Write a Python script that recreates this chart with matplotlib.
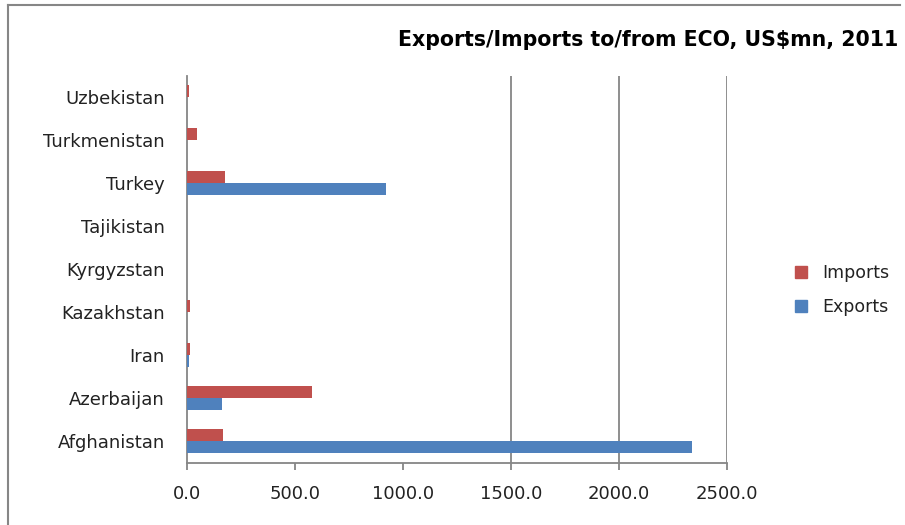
import matplotlib.pyplot as plt
from matplotlib.lines import Line2D

countries = ["Afghanistan", "Azerbaijan", "Iran", "Kazakhstan", "Kyrgyzstan",
             "Tajikistan", "Turkey", "Turkmenistan", "Uzbekistan"]
exports = [2340.0, 162.0, 8.0, 0.0, 0.0, 0.0, 921.0, 0.0, 0.0]
imports = [167.0, 578.0, 14.0, 12.0, 0.0, 0.0, 176.0, 44.0, 8.0]
xticks = [0, 500, 1000, 1500, 2000, 2500]

red = "#C0504D"
blue = "#4F81BD"
grey = "#868686"

fig = plt.figure(figsize=(9.05, 5.25), dpi=100)
ax = fig.add_axes([187 / 905, 1 - 462.5 / 525, 540 / 905, 387 / 525])

ypos = list(range(len(countries)))
h = 0.29
ax.barh([y - h / 2 for y in ypos], exports, height=h, color=blue, label="Exports", zorder=3)
ax.barh([y + h / 2 for y in ypos], imports, height=h, color=red, label="Imports", zorder=3)

ax.set_xlim(0, 2500)
ax.set_ylim(-0.5, len(countries) - 0.5)
ax.set_yticks(ypos)
ax.set_yticklabels(countries, fontsize=13, color="#222222")
ax.set_xticks(xticks)
ax.set_xticklabels(["%.1f" % v for v in xticks], fontsize=13, color="#222222")
ax.tick_params(axis="y", length=0, pad=16)
ax.tick_params(axis="x", length=5, color=grey, width=1.3, pad=11)

# only the upper grid lines show in the reference
for v in xticks[3:]:
    ax.axvline(v, color=grey, lw=1.3, zorder=1)

for s in ["top", "right"]:
    ax.spines[s].set_visible(False)
for s in ["left", "bottom"]:
    ax.spines[s].set_color(grey)
    ax.spines[s].set_linewidth(1.3)

handles = [Line2D([], [], marker="s", ls="", color=red, markersize=9),
           Line2D([], [], marker="s", ls="", color=blue, markersize=9)]
fig.legend(handles, ["Imports", "Exports"], loc="center left",
           bbox_to_anchor=(768 / 905, 1 - 290 / 525), frameon=False,
           fontsize=12.5, handletextpad=0.2, labelspacing=0.95,
           labelcolor="#222222")

fig.text(398 / 905, 1 - 40 / 525, "Exports/Imports to/from ECO, US$mn, 2011",
         fontsize=14.8, fontweight="bold", family="DejaVu Sans",
         ha="left", va="center")

# outer chart border (top and left edges visible)
fig.add_artist(Line2D([8 / 905, 8 / 905], [0, 1 - 5 / 525], color=grey, lw=1.5))
fig.add_artist(Line2D([8 / 905, 900 / 905], [1 - 5 / 525, 1 - 5 / 525], color=grey, lw=1.5))

fig.savefig("out.png", dpi=100)
